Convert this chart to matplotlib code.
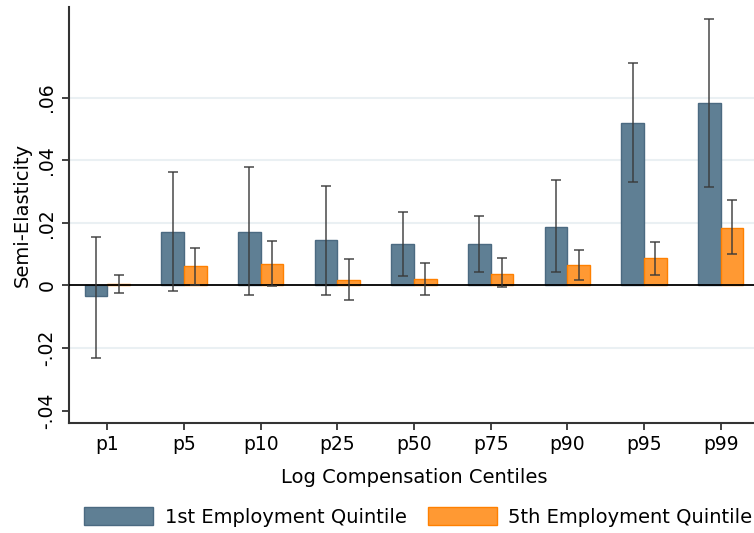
import matplotlib
matplotlib.use("Agg")
import matplotlib.pyplot as plt
import numpy as np
from matplotlib.patches import Patch

centiles = ["p1", "p5", "p10", "p25", "p50", "p75", "p90", "p95", "p99"]

q1_est = [-0.0035, 0.0171, 0.0171, 0.0144, 0.0131, 0.0131, 0.0188, 0.0519, 0.0581]
q1_lo = [-0.0232, -0.0018, -0.0030, -0.0030, 0.0030, 0.0043, 0.0043, 0.0331, 0.0314]
q1_hi = [0.0156, 0.0362, 0.0377, 0.0319, 0.0236, 0.0223, 0.0336, 0.0710, 0.0852]

q5_est = [0.0005, 0.0061, 0.0068, 0.0018, 0.0020, 0.0038, 0.0065, 0.0087, 0.0184]
q5_lo = [-0.0023, 0.0000, -0.0003, -0.0047, -0.0031, -0.0006, 0.0019, 0.0035, 0.0100]
q5_hi = [0.0035, 0.0121, 0.0143, 0.0086, 0.0073, 0.0087, 0.0113, 0.0140, 0.0273]

yticks = [-0.04, -0.02, 0, 0.02, 0.04, 0.06]
ytick_labels = ["-.04", "-.02", "0", ".02", ".04", ".06"]

blue_face = "#5f7f94"
blue_edge = "#4b6a81"
orange_face = "#ff9933"
orange_edge = "#ff8000"

plt.rcParams["font.family"] = "DejaVu Sans"

fig = plt.figure(figsize=(7.54, 5.33), dpi=100)
ax = fig.add_axes([69 / 754, (533 - 423) / 533, 690 / 754, (423 - 7) / 533])

x = np.arange(len(centiles))
w = 0.296

ax.bar(x - w / 2, q1_est, width=w, color=blue_face, edgecolor=blue_edge, linewidth=1.0, zorder=2)
ax.bar(x + w / 2, q5_est, width=w, color=orange_face, edgecolor=orange_edge, linewidth=1.0, zorder=2)

def draw_ci(xpos, est, lo, hi):
    est = np.array(est)
    err = np.vstack([est - np.array(lo), np.array(hi) - est])
    ax.errorbar(xpos, est, yerr=err, fmt="none", ecolor="#3a3a3a", elinewidth=1.2,
                capsize=3.5, capthick=1.2, alpha=0.85, zorder=4)

draw_ci(x - w / 2, q1_est, q1_lo, q1_hi)
draw_ci(x + w / 2, q5_est, q5_lo, q5_hi)

ax.axhline(0, color="black", linewidth=1.3, zorder=3)
for g in [-0.02, 0.02, 0.04, 0.06]:
    ax.axhline(g, color="#eaf0f3", linewidth=1.5, zorder=0)

ax.set_xlim(-0.5, 8.5)
ax.set_ylim(-0.0439, 0.0889)
ax.set_xticks(x)
ax.set_xticklabels(centiles, fontsize=13.5)
ax.set_yticks(yticks)
ax.set_yticklabels(ytick_labels, fontsize=13.5, rotation=90, va="center")

for side in ["top", "right"]:
    ax.spines[side].set_visible(False)
for side in ["left", "bottom"]:
    ax.spines[side].set_color("#333333")
    ax.spines[side].set_linewidth(1.5)
ax.tick_params(axis="both", direction="out", length=5, width=1.3, color="#333333")
ax.tick_params(axis="x", pad=4)
ax.tick_params(axis="y", pad=4)

ax.set_xlabel("Log Compensation Centiles", fontsize=14, labelpad=10)
ax.set_ylabel("Semi-Elasticity", fontsize=14, labelpad=4)

handles = [
    Patch(facecolor=blue_face, edgecolor=blue_edge, label="1st Employment Quintile"),
    Patch(facecolor=orange_face, edgecolor=orange_edge, label="5th Employment Quintile"),
]
fig.legend(handles=handles, loc="center left", bbox_to_anchor=(78 / 754, (533 - 517) / 533),
           ncol=2, frameon=False, fontsize=14, handlelength=3.55, handleheight=1.05,
           columnspacing=1.1, handletextpad=0.6, borderaxespad=0, borderpad=0.3)

fig.savefig("out.png", dpi=100)
